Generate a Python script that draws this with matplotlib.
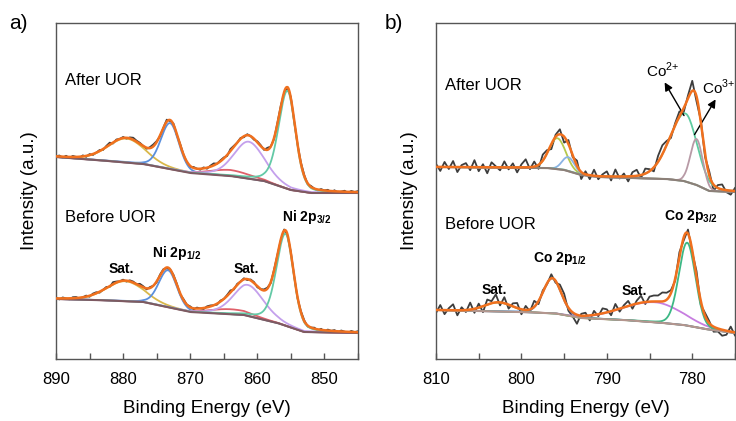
import numpy as np
import matplotlib.pyplot as plt
from matplotlib.ticker import MultipleLocator

plt.rcParams['font.family'] = ['Liberation Sans', 'DejaVu Sans']
plt.rcParams['mathtext.fontset'] = 'custom'
plt.rcParams['mathtext.rm'] = 'Liberation Sans'
plt.rcParams['mathtext.bf'] = 'Liberation Sans:bold'

# fitted components: (centre eV, height, half width high-BE side, half width low-BE side, lorentz fraction)
# intensity in arbitrary units (0 = bottom of frame)

# ---- Ni 2p ----
ni_after_bg_e = [890, 884, 877, 870, 864, 859, 855, 852, 845]
ni_after_bg_i = [202, 199, 195, 186, 183, 178, 169, 166, 166]
ni_after_peaks = [
    (879.5, 24, 3.3, 3.3, 0.2),    # sat.
    (873.0, 46, 1.65, 1.55, 0.15), # 2p1/2
    (864.0, 6, 3.5, 3.5, 0.0),
    (861.3, 37, 2.6, 2.8, 0.3),    # sat.
    (855.5, 98, 1.6, 1.4, 0.3),    # 2p3/2
]
ni_before_bg_e = [890, 884, 877, 870, 862, 857, 853, 845]
ni_before_bg_i = [60, 59, 57, 47, 44, 36, 27, 26]
ni_before_peaks = [
    (879.7, 20, 3.3, 3.3, 0.2),
    (873.3, 37, 1.65, 1.55, 0.15),
    (864.0, 5, 3.5, 3.5, 0.0),
    (861.4, 31, 2.6, 2.8, 0.3),
    (855.8, 92, 1.6, 1.4, 0.3),
]
ni_colors = ['#d9b84a', '#5a8fdc', '#e0606a', '#c4a0ec', '#63c9a6']

# residual of the measured counts around the fit, every 0.5 eV from 890 to 845
ni_after_noise = [0, 1, -1, 1, -1, 1, 0, -1, 1, -1, 1, -1, 0, 1, -1, 1, 2, -1, 1, 0,
                  1, -1, 1, 2, 1, 1, 0, -1, 1, 2, 1, -1, 0, 2, -1, 1, -1, 1, 0, -1,
                  -1, 1, 0, -1, 1, -1, 1, 2, 0, 1, 1, -1, 2, 1, 0, 1, -1, 1, 0, -1,
                  1, 1, -1, 2, 0, -1, 1, 1, -1, 0, 1, -1, 0, 1, 1, -1, 1, 0, -1, 1,
                  0, 1, -1, 1, -1, 0, 1, -1, 1, 0, 1]
ni_before_noise = [1, -1, 1, 0, -1, 1, 1, -1, 0, 1, -1, 1, 1, -1, 0, 1, -1, 2, 1, 0,
                   1, -1, 1, 1, 0, 2, 1, -1, 1, 0, -1, 1, 1, -1, 0, 1, 1, -1, 1, 0,
                   1, -1, 1, 0, -1, 1, 1, 0, -1, 1, 0, 1, 2, -1, 1, 0, 1, -1, 1, 1,
                   -1, 0, 1, 1, -1, 1, 0, -1, 1, -1, 1, 0, -1, 1, 1, -1, 0, 1, -1, 1,
                   -1, 1, 0, 1, -1, 1, 0, -1, 1, 0, 1]

# ---- Co 2p ----
co_after_bg_e = [810, 797, 795, 793, 791, 783, 781, 779.5, 778, 775]
co_after_bg_i = [192, 191, 189, 184, 182, 180, 178, 174, 168, 167]
co_after_peaks = [
    (795.8, 31, 1.15, 1.15, 0.1),
    (794.5, 14, 0.85, 0.85, 0.0),
    (780.8, 68, 2.2, 1.6, 0.2),    # Co2+
    (779.5, 46, 0.85, 0.85, 0.0),  # Co3+
]
co_after_colors = ['#b5c84c', '#8ab4e4', '#5ecba0', '#b89aa6']
co_before_bg_e = [810, 800, 796, 793, 788, 784, 781, 778.5, 775]
co_before_bg_i = [49, 47, 45.5, 41, 39, 36.5, 34, 30, 26]
co_before_peaks = [
    (802.7, 9, 1.9, 1.9, 0.0),     # sat.
    (796.4, 35, 1.25, 1.25, 0.1),  # 2p1/2
    (784.3, 20, 4.5, 3.7, 0.0),    # sat.
    (780.6, 83, 1.15, 1.15, 0.1),  # 2p3/2
]
co_before_colors = ['#b4a82a', '#2a78d0', '#c77de0', '#3cb885']

# residuals every 0.5 eV from 810 to 775
co_after_noise = [3, -4, 5, -2, 6, -5, 2, 4, -3, 7, -4, 3, -6, 5, 1, -3, 6, -2, 4, -5,
                  3, 8, -2, 5, -4, 6, 3, -5, 2, 5, -6, 4, -2, 5, -7, 3, -4, 6, -3, 2,
                  5, -4, 7, -2, 3, -5, 4, 6, -3, 5, 2, -4, 6, 9, 4, -3, 2, 5, -4, 3,
                  10, -5, 2, -3, 4, -6, 3, 5, -2, -4, 3]
co_before_noise = [-3, 5, -4, 2, 6, -5, 3, -2, 7, -4, 4, -6, 5, 2, 8, -3, 6, -4, 3, 5,
                   -5, 4, -2, 6, -3, 2, -1, 4, -2, 5, 6, -3, -4, -9, 2, 3, -5, 4, -2, 5,
                   3, -4, 6, -3, 2, 5, -4, 3, 7, -2, 5, 6, 6, 9, 7, 3, -2, 5, -3, 4,
                   -2, 6, -4, 3, 2, -5, -3, -6, -4, 5, -3]

ENV = '#f0701e'
RAW = '#3d3d3d'
FRAME = '#555555'


def peak(e, p):
    c, h, w_hi, w_lo, eta = p
    w = np.where(e > c, w_hi, w_lo)
    u = (e - c) / w
    return h * ((1 - eta) * np.exp(-np.log(2) * u ** 2) + eta / (1 + u ** 2))


def spectrum(ax, e_hi, e_lo, bg_e, bg_i, peaks, colors, noise, bg_color):
    e = np.linspace(e_hi, e_lo, int(round((e_hi - e_lo) * 10)) + 1)
    e_raw = np.linspace(e_hi, e_lo, len(noise))
    bg = np.interp(e, bg_e[::-1], bg_i[::-1])
    bg_raw = np.interp(e_raw, bg_e[::-1], bg_i[::-1])
    env = bg + sum(peak(e, p) for p in peaks)
    raw = bg_raw + sum(peak(e_raw, p) for p in peaks) + np.array(noise)
    ax.plot(e_raw, raw, color=RAW, lw=1.3, zorder=1)
    for p, c in zip(peaks, colors):
        ax.plot(e, bg + peak(e, p), color=c, lw=1.3, zorder=2)
    ax.plot(e, bg, color=bg_color, lw=1.5, zorder=3)
    ax.plot(e, env, color=ENV, lw=1.8, zorder=4)


fig = plt.figure(figsize=(7.36, 4.21), dpi=100)
ax1 = fig.add_axes([0.0761, 0.1473, 0.4103, 0.7981])
ax2 = fig.add_axes([0.5924, 0.1473, 0.4062, 0.7981])

spectrum(ax1, 890, 845, np.array(ni_after_bg_e), np.array(ni_after_bg_i),
         ni_after_peaks, ni_colors, ni_after_noise, '#7e5a62')
spectrum(ax1, 890, 845, np.array(ni_before_bg_e), np.array(ni_before_bg_i),
         ni_before_peaks, ni_colors, ni_before_noise, '#7e5a62')
spectrum(ax2, 810, 775, np.array(co_after_bg_e), np.array(co_after_bg_i),
         co_after_peaks, co_after_colors, co_after_noise, '#8c8078')
spectrum(ax2, 810, 775, np.array(co_before_bg_e), np.array(co_before_bg_i),
         co_before_peaks, co_before_colors, co_before_noise, '#b4968e')

for ax, lim, ticks in [(ax1, (890, 845), [890, 880, 870, 860, 850]),
                       (ax2, (810, 775), [810, 800, 790, 780])]:
    ax.set_xlim(*lim)
    ax.set_ylim(0, 336)
    ax.set_xticks(ticks)
    ax.xaxis.set_minor_locator(MultipleLocator(5))
    ax.set_yticks([])
    ax.tick_params(axis='x', which='both', direction='in', length=4, width=1,
                   color=FRAME, labelsize=12, pad=9.5)
    for s in ax.spines.values():
        s.set_color(FRAME)
        s.set_linewidth(1.0)
    ax.set_xlabel('Binding Energy (eV)', fontsize=13.5, labelpad=9)
    ax.set_ylabel('Intensity (a.u.)', fontsize=13.5, labelpad=13)

# panel a texts
ax1.text(888.7, 278, 'After UOR', fontsize=12, ha='left', va='center')
ax1.text(888.7, 141, 'Before UOR', fontsize=12, ha='left', va='center')
ax1.text(880.25, 86, 'Sat.', fontsize=10, fontweight='bold', ha='center', va='baseline')
ax1.text(872.0, 102, r'Ni 2p$_{\mathbf{1/2}}$', fontsize=10, fontweight='bold', ha='center', va='baseline')
ax1.text(861.7, 86, 'Sat.', fontsize=10, fontweight='bold', ha='center', va='baseline')
ax1.text(852.65, 138, r'Ni 2p$_{\mathbf{3/2}}$', fontsize=10, fontweight='bold', ha='center', va='baseline')

# panel b texts
ax2.text(808.9, 273, 'After UOR', fontsize=12, ha='left', va='center')
ax2.text(809.0, 134, 'Before UOR', fontsize=12, ha='left', va='center')
ax2.text(803.2, 65, 'Sat.', fontsize=10, fontweight='bold', ha='center', va='baseline')
ax2.text(795.5, 97, r'Co 2p$_{\mathbf{1/2}}$', fontsize=10, fontweight='bold', ha='center', va='baseline')
ax2.text(786.8, 64, 'Sat.', fontsize=10, fontweight='bold', ha='center', va='baseline')
ax2.text(780.2, 139, r'Co 2p$_{\mathbf{3/2}}$', fontsize=10, fontweight='bold', ha='center', va='baseline')
ax2.text(783.5, 289, r'Co$^{2{+}}$', fontsize=11, ha='center', va='center')
ax2.text(776.9, 272, r'Co$^{3{+}}$', fontsize=11, ha='center', va='center')
ax2.annotate('', xy=(783.4, 279), xytext=(780.8, 241),
             arrowprops=dict(arrowstyle='-|>', color='black', lw=1, mutation_scale=12))
ax2.annotate('', xy=(777.1, 262), xytext=(779.9, 222),
             arrowprops=dict(arrowstyle='-|>', color='black', lw=1, mutation_scale=12))

fig.text(0.012, 0.943, 'a)', fontsize=15, ha='left', va='center')
fig.text(0.523, 0.943, 'b)', fontsize=15, ha='left', va='center')

fig.savefig('out.png', dpi=100)
